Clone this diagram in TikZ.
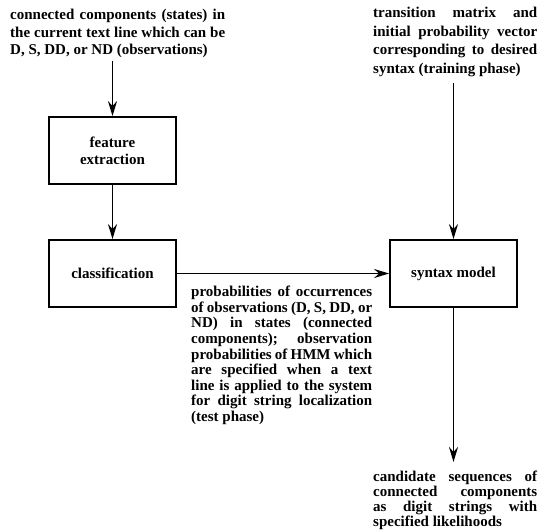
\documentclass[tikz,border=0pt]{standalone}
\usepackage{fontspec}
\setmainfont{Liberation Serif}
\usepackage{tikz}
\usetikzlibrary{arrows.meta}
\tolerance=10000
\hbadness=10000

\begin{document}
\begin{tikzpicture}[x=1pt, y=-1pt,
  box/.style={draw, line width=1.8pt, minimum width=127pt, minimum height=67pt, align=center, font=\bfseries\fontsize{15}{17}\selectfont},
  note/.style={align=justify, inner sep=0pt, anchor=north west, font=\bfseries\fontsize{15}{#1}\selectfont},
  arr/.style={line width=1.9pt, -{Stealth[length=15pt, width=9pt, inset=5pt]}}]
\useasboundingbox (0,0) rectangle (538,532);
\node [note=17.5, text width=215pt] (obs) at (10,9) {connected components (states) in\linebreak the current text line which can be\linebreak D, S, DD, or ND (observations)};
\node [note=18.5, text width=164pt] (trans) at (373,7) {transition matrix and\linebreak initial probability vector\linebreak corresponding to desired\linebreak syntax (training phase)};
\node [box] (feat) at (112.5,150.5) {feature\\extraction};
\node [box] (cls) at (112.5,273.5) {classification};
\node [box] (syn) at (453.5,273.5) {syntax model};
\node [note=15.6, text width=181pt] (prob) at (191,286) {probabilities of occurrences\linebreak of observations (D, S, DD, or\linebreak ND) in states (connected\linebreak components); observation\linebreak probabilities of HMM which\linebreak are specified when a text\linebreak line is applied to the system\linebreak for digit string localization\linebreak (test phase)};
\node [note=15, text width=164pt] (cand) at (373,471) {candidate sequences of\linebreak connected components\linebreak as digit strings with\linebreak specified likelihoods};

\draw[arr, shorten <=3pt] (obs.south -| feat) -- (feat);
\draw[arr] (feat) -- (cls);
\draw[arr] (cls) -- (syn);
\draw[arr, shorten <=6pt] (trans.south -| syn) -- (syn);
\draw[arr, shorten >=9pt] (syn) -- (syn |- cand.north);
\end{tikzpicture}
\end{document}
